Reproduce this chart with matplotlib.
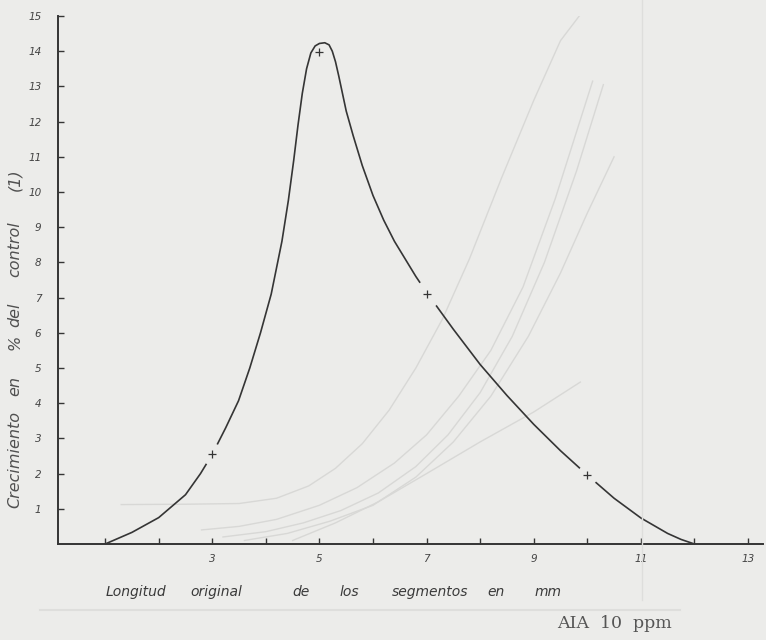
import matplotlib.pyplot as plt

# curva principal: crecimiento (% del control) vs longitud original (mm)
long_mm = [1.0, 1.5, 2.0, 2.5, 2.78, 3.0, 3.25, 3.49, 3.7, 3.9, 4.1, 4.3, 4.42,
           4.52, 4.6, 4.68, 4.76, 4.84, 4.92, 5.0, 5.1, 5.18, 5.24, 5.3, 5.36,
           5.43, 5.5, 5.63, 5.8, 6.0, 6.2, 6.4, 6.6, 6.8, 7.0, 7.5, 8.0, 8.5,
           9.0, 9.5, 10.0, 10.5, 11.0, 11.5, 11.75, 12.0]
crec = [0.0, 0.33, 0.75, 1.4, 2.0, 2.55, 3.3, 4.07, 5.0, 6.0, 7.1, 8.6, 9.76,
        10.9, 11.9, 12.8, 13.5, 13.95, 14.15, 14.22, 14.24, 14.18, 14.0, 13.7, 13.3,
        12.8, 12.3, 11.6, 10.75, 9.9, 9.2, 8.6, 8.1, 7.6, 7.15, 6.1, 5.1, 4.22,
        3.4, 2.65, 1.96, 1.3, 0.74, 0.3, 0.13, 0.0]

# puntos medidos (+)
pts_x = [3, 5, 7, 10]
pts_y = [2.55, 13.97, 7.1, 1.96]
gap_size = [16, 0, 20, 15]

# curvas que se transparentan del reverso de la hoja
ghost = [
    ([1.3, 2.5, 3.5, 4.2, 4.8, 5.3, 5.8, 6.3, 6.8, 7.3, 7.8, 8.4, 9.0, 9.5, 9.85],
     [1.12, 1.13, 1.15, 1.3, 1.65, 2.15, 2.85, 3.8, 5.0, 6.4, 8.1, 10.4, 12.6, 14.3, 15.0]),
    ([2.8, 3.5, 4.2, 5.0, 5.7, 6.4, 7.0, 7.6, 8.2, 8.8, 9.4, 10.1],
     [0.4, 0.5, 0.7, 1.1, 1.6, 2.3, 3.1, 4.2, 5.5, 7.3, 9.8, 13.15]),
    ([3.2, 4.0, 4.7, 5.4, 6.1, 6.8, 7.4, 8.0, 8.6, 9.2, 9.8, 10.3],
     [0.2, 0.35, 0.6, 0.95, 1.45, 2.2, 3.1, 4.3, 5.9, 8.0, 10.6, 13.05]),
    ([3.6, 4.4, 5.2, 6.0, 6.8, 7.5, 8.2, 8.9, 9.5, 10.0, 10.5],
     [0.1, 0.3, 0.65, 1.1, 1.9, 2.9, 4.2, 5.9, 7.7, 9.4, 11.0]),
    ([4.5, 5.3, 6.1, 7.0, 8.0, 9.0, 9.87],
     [0.1, 0.6, 1.2, 2.0, 2.9, 3.75, 4.6]),
]

x_ticks = list(range(1, 14))
x_labels = ['' if t % 2 == 0 or t == 1 else str(t) for t in x_ticks]
y_ticks = list(range(1, 16))

paper = '#ececea'
ink = '#353535'

fig = plt.figure(figsize=(7.66, 6.4), dpi=100, facecolor=paper)
ax = fig.add_axes([58 / 766, 96 / 640, 705 / 766, 528 / 640])
ax.set_facecolor(paper)

# restos del reverso
for gx, gy in ghost:
    ax.plot(gx, gy, color='#d8d8d6', lw=1.0, zorder=1)
fig.add_artist(plt.Line2D([642 / 766, 642 / 766], [40 / 640, 1.0], color='#dededc', lw=1.0))
fig.add_artist(plt.Line2D([40 / 766, 680 / 766], [30 / 640, 30 / 640], color='#dededc', lw=1.5))

ax.plot(long_mm, crec, color=ink, lw=1.2, zorder=3)
for x, y, s in zip(pts_x, pts_y, gap_size):
    if s:
        ax.plot(x, y, 'o', ms=s, mfc=paper, mec='none', zorder=4)
ax.plot(pts_x, pts_y, '+', color=ink, ms=6, mew=0.9, zorder=5)

ax.set_xlim(0.12, 13.28)
ax.set_ylim(0, 15)
for side in ['top', 'right']:
    ax.spines[side].set_visible(False)
for side in ['left', 'bottom']:
    ax.spines[side].set_color(ink)
    ax.spines[side].set_linewidth(1.4)

ax.set_xticks(x_ticks)
ax.set_xticklabels(x_labels)
ax.set_yticks(y_ticks)
ax.set_yticklabels([str(t) for t in y_ticks])
ax.tick_params(direction='in', length=4, width=1, color=ink, labelsize=7.5,
               labelcolor='#444444')
ax.tick_params(axis='y', pad=12)
ax.tick_params(axis='x', pad=7)
for lab in ax.get_xticklabels() + ax.get_yticklabels():
    lab.set_style('italic')

# titulo del eje y, palabra por palabra
ywords = ['Crecimiento', 'en', '%', 'del', 'control', '(1)']
ywords_y = [459, 386, 342, 315, 249, 180]
for w, wy in zip(ywords, ywords_y):
    fig.text(15 / 766, 1 - wy / 640, w, rotation=90, ha='center', va='center',
             style='italic', fontsize=11.5, color='#505050')

words = ['Longitud', 'original', 'de', 'los', 'segmentos', 'en', 'mm']
word_x = [106, 190, 292, 340, 392, 487, 535]
for w, wx in zip(words, word_x):
    fig.text(wx / 766, 1 - 592 / 640, w, ha='left', va='center', style='italic',
             fontsize=10, color='#3a3a3a')

fig.text(557 / 766, 1 - 624 / 640, 'AIA  10  ppm', ha='left', va='center',
         family='DejaVu Serif', fontsize=12.5, color='#555555')

fig.savefig('out.png', dpi=100, facecolor=paper)
